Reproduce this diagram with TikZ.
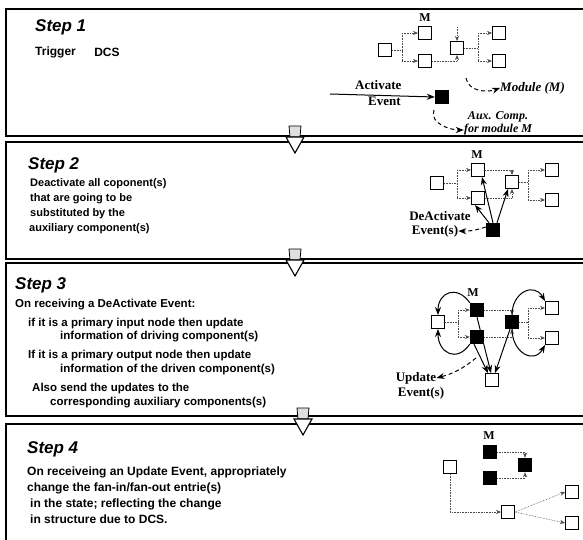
\documentclass[tikz,border=0pt]{standalone}
\usepackage{fontspec}
\setmainfont{Liberation Serif}
\setsansfont{Liberation Sans}
\usetikzlibrary{arrows.meta, positioning}

\tikzset{
  panel/.style={draw, line width=1.1pt},
  steptitle/.style={anchor=west, inner sep=0pt, font=\sffamily\bfseries\itshape\fontsize{17}{18}\selectfont},
  txt/.style={anchor=west, inner sep=0pt, font=\sffamily\bfseries\fontsize{11}{12}\selectfont},
  midtxt/.style={txt, font=\sffamily\bfseries\fontsize{11.5}{12}\selectfont},
  bigtxt/.style={txt, font=\sffamily\bfseries\fontsize{12}{13}\selectfont},
  comp/.style={draw, line width=0.9pt, fill=white, minimum size=13pt, inner sep=0pt},
  auxc/.style={fill=black, minimum size=14pt, inner sep=0pt},
  lbl/.style={inner sep=0pt, font=\bfseries\fontsize{13}{14}\selectfont},
  ilbl/.style={inner sep=0pt, font=\bfseries\itshape\fontsize{13}{14}\selectfont},
  mlbl/.style={inner sep=0pt, font=\bfseries\fontsize{12}{12}\selectfont},
  wire/.style={densely dotted, gray!60!black, line width=0.6pt},
  wireto/.style={wire, -{Stealth[length=5pt, width=4pt]}},
  evt/.style={-{Stealth[length=8pt, width=6pt]}, line width=1pt},
  dashevt/.style={evt, dash pattern=on 4pt off 3pt},
  stem/.style={draw, fill=gray!25, line width=0.8pt},
  flow/.style={draw, fill=white, line width=1.1pt},
}

\begin{document}
\begin{tikzpicture}[x=1pt, y=-1pt]
  \useasboundingbox (0,0) rectangle (583,540);

  % panels
  \draw[panel] (6,9) rectangle (600,136);
  \draw[panel] (6,142) rectangle (600,259);
  \draw[panel] (6,263) rectangle (600,416);
  \draw[panel] (6,424) rectangle (600,560);

  % step arrows between panels
  \foreach \x/\y in {295/136, 295/259, 303/418} {
    \draw[stem] (\x-6,\y-10) -- (\x+6,\y-10) -- (\x+5,\y+1) -- (\x-5,\y+1) -- cycle;
    \draw[flow] (\x-9,\y+1) -- (\x+9,\y+1) -- (\x,\y+17) -- cycle;
  }

  % Step 1
  \node (s1) [steptitle] at (35,27) {Step 1};
  \node (t1) [bigtxt] at (35,52) {Trigger};
  \node (t1b) [bigtxt, right=18pt of t1] {DCS};

  \node (m1) [mlbl] at (425,18) {M};
  \node (a1) [comp] at (385,50) {};
  \node (b1) [comp] at (425,33) {};
  \node (c1) [comp] at (425,61) {};
  \node (d1) [comp] at (457,48) {};
  \node (e1) [comp] at (499,33) {};
  \node (f1) [comp] at (499,61) {};
  \node (x1) [auxc] at (442,97) {};

  \draw[wire] (a1.east) -- ++(10,0) coordinate (j1);
  \draw[wire] (j1 |- b1) -- (j1 |- c1);
  \draw[wireto] (j1 |- b1) -- (b1.west);
  \draw[wireto] (j1 |- c1) -- (c1.west);
  \draw[wireto] (c1.east) -| (d1.south);
  \coordinate (s1d) at (457,27);
  \draw[wireto] (s1d) -- (d1.north);
  \draw[wire] (d1.east) -- ++(14,0) coordinate (k1);
  \draw[wire] (k1 |- e1) -- (k1 |- f1);
  \draw[wireto] (k1 |- e1) -- (e1.west);
  \draw[wireto] (k1 |- f1) -- (f1.west);

  \node (act) [lbl, anchor=base west] at (355,90) {Activate};
  \node (ev1) [lbl, anchor=base west] at (368,106) {Event};
  \coordinate (src1) at (330,94);
  \draw[evt] (src1) -- (x1.west);

  \node (mod) [ilbl, anchor=west] at (500,88) {Module (M)};
  \node (aux) [ilbl, font=\bfseries\itshape\fontsize{12}{12}\selectfont] at (498,117) {Aux. Comp.};
  \node (aux2) [ilbl, font=\bfseries\itshape\fontsize{12}{12}\selectfont] at (498,130) {for module M};
  \coordinate (p1) at (466,78);
  \draw[dashevt] (p1) to[out=-80, in=200] (mod.west);
  \coordinate (p2) at (434,110);
  \draw[dashevt] (p2) to[out=-110, in=180] (aux2.west);

  % Step 2
  \node (s2) [steptitle] at (28,165) {Step 2};
  \node (t2a) [txt] at (30,184) {Deactivate all coponent(s)};
  \node (t2b) [txt] at (30,199) {that are going to be};
  \node (t2c) [txt] at (30,214) {substituted by the};
  \node (t2d) [txt] at (29,229) {auxiliary component(s)};

  \node (m2) [mlbl] at (477,155) {M};
  \node (a2) [comp] at (437,183) {};
  \node (b2) [comp] at (478,170) {};
  \node (c2) [comp] at (478,198) {};
  \node (d2) [comp] at (512,182) {};
  \node (e2) [comp] at (552,170) {};
  \node (f2) [comp] at (552,200) {};
  \node (x2) [auxc] at (493,230) {};

  \draw[wire] (a2.east) -- ++(13,0) coordinate (j2);
  \draw[wire] (j2 |- b2) -- (j2 |- c2);
  \draw[wireto] (j2 |- b2) -- (b2.west);
  \draw[wireto] (j2 |- c2) -- (c2.west);
  \draw[wireto] (b2.east) -| (d2.north);
  \draw[wireto] (c2.east) -| (d2.south);
  \draw[wire] (d2.east) -- ++(9,0) coordinate (k2);
  \draw[wire] (k2 |- e2) -- (k2 |- f2);
  \draw[wireto] (k2 |- e2) -- (e2.west);
  \draw[wireto] (k2 |- f2) -- (f2.west);

  \draw[evt] ([xshift=-4pt]x2.north) -- ([xshift=-3pt]c2.south);
  \draw[evt] (x2.north) -- ([xshift=4pt]b2.south);
  \draw[evt] ([xshift=4pt]x2.north) -- ([xshift=-4pt]d2.south);

  \node (de2) [lbl] at (440,216) {DeActivate};
  \node (ev2) [lbl] at (435,231) {Event(s)};
  \draw[dashevt] ([yshift=3pt]x2.west) to[bend left=10] (ev2.east);

  % Step 3
  \node (s3) [steptitle] at (15,285) {Step 3};
  \node (t3a) [midtxt] at (15,305) {On receiving a DeActivate Event:};
  \node (t3b) [midtxt] at (28,324) {if  it is a primary input node then update};
  \node (t3c) [midtxt] at (60,337) {information of driving component(s)};
  \node (t3d) [midtxt] at (28,356) {If it is a primary output node then update};
  \node (t3e) [midtxt] at (60,370) {information of the driven component(s)};
  \node (t3f) [midtxt] at (32,389) {Also send the updates to the};
  \node (t3g) [midtxt] at (50,403) {corresponding auxiliary components(s)};

  \node (m3) [mlbl] at (473,293) {M};
  \node (a3) [comp] at (438,322) {};
  \node (b3) [auxc] at (477,310) {};
  \node (c3) [auxc] at (477,337) {};
  \node (d3) [auxc] at (512,322) {};
  \node (e3) [comp] at (552,308) {};
  \node (f3) [comp] at (552,338) {};
  \node (g3) [comp] at (492,380) {};

  \draw[wire] (a3.east) -- ++(13,0) coordinate (j3);
  \draw[wire] (j3 |- b3) -- (j3 |- c3);
  \draw[wireto] (j3 |- b3) -- (b3.west);
  \draw[wireto] (j3 |- c3) -- (c3.west);
  \draw[wireto] (b3.east) -| (d3.north);
  \draw[wireto] (c3.east) -| (d3.south);
  \draw[wire] (d3.east) -- ++(9,0) coordinate (k3);
  \draw[wire] (k3 |- e3) -- (k3 |- f3);
  \draw[wireto] (k3 |- e3) -- (e3.west);
  \draw[wireto] (k3 |- f3) -- (f3.west);

  \draw[evt] (b3.south) -- ([xshift=-1pt]g3.north);
  \draw[evt] ([xshift=-3pt]c3.south) -- ([xshift=-4pt]g3.north);
  \draw[evt] ([xshift=-2pt]d3.south) -- ([xshift=3pt]g3.north);

  \draw[evt] (b3.north west) to[out=125, in=90, looseness=1.7] (a3.north);
  \draw[evt] (c3.south west) to[out=-125, in=-90, looseness=1.7] (a3.south);
  \draw[evt] (d3.north) to[out=90, in=120, looseness=1.6] (e3.north west);
  \draw[evt] (d3.south) to[out=-90, in=-120, looseness=1.6] (f3.south west);

  \node (up3) [lbl] at (416,378) {Update};
  \node (ev3) [lbl] at (421,393) {Event(s)};
  \coordinate (p3) at (476,358);
  \draw[dashevt] (p3) to[bend left=12] (up3.east);

  % Step 4
  \node (s4) [steptitle] at (27,449) {Step 4};
  \node (t4a) [bigtxt] at (27,472) {On receiveing an Update Event, appropriately};
  \node (t4b) [bigtxt] at (27,488) {change the fan-in/fan-out entrie(s)};
  \node (t4c) [bigtxt] at (30,504) {in the state; reflecting the change};
  \node (t4d) [bigtxt] at (30,519) {in structure due to DCS.};

  \node (m4) [mlbl] at (489,436) {M};
  \node (a4) [comp] at (450,467) {};
  \node (b4) [auxc] at (490,452) {};
  \node (c4) [auxc] at (490,478) {};
  \node (d4) [auxc] at (525,465) {};
  \node (g4) [comp] at (508,512) {};
  \node (e4) [comp] at (572,492) {};
  \node (f4) [comp] at (572,523) {};

  \draw[wireto] (b4.east) -| (d4.north);
  \draw[wireto] (c4.east) -| (d4.south);
  \draw[wireto] (a4.south) |- (g4.west);
  \draw[wireto] (g4.east) -- (e4.west);
  \draw[wireto] (g4.east) -- (f4.west);
\end{tikzpicture}
\end{document}
